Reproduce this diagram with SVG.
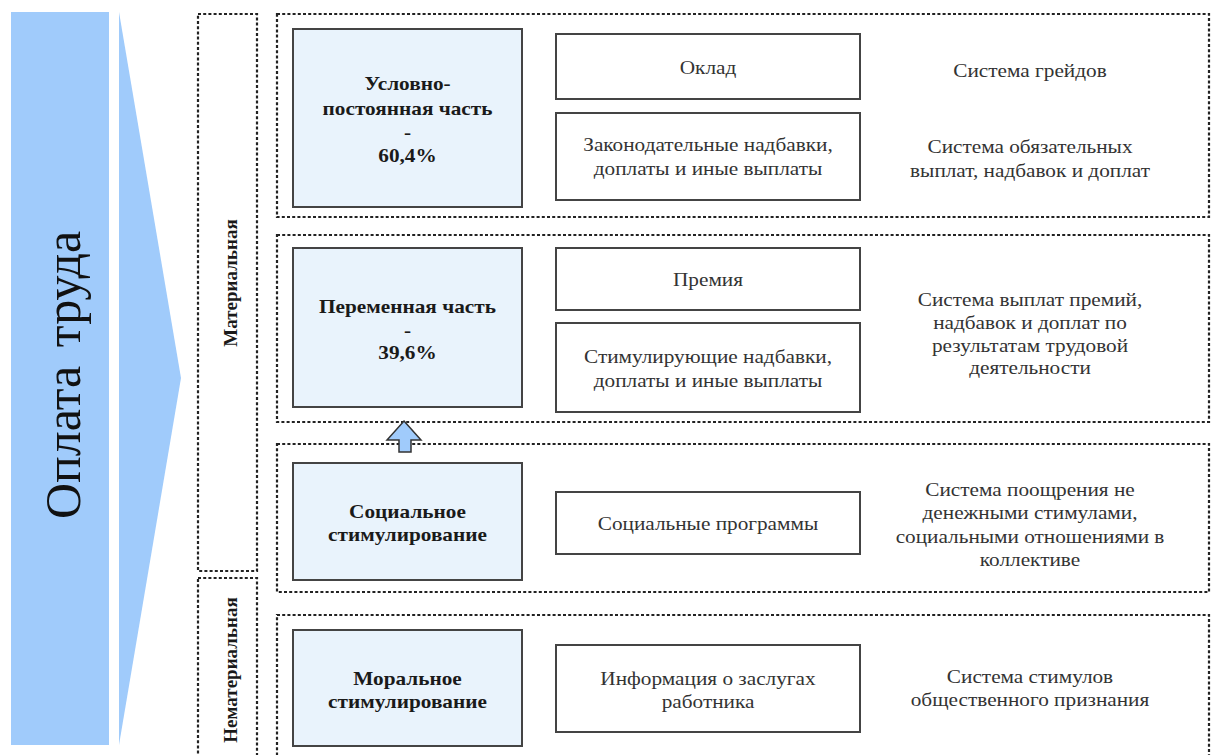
<svg xmlns="http://www.w3.org/2000/svg" width="1211" height="755" viewBox="0 0 1211 755">
<style>
.dash{fill:none;stroke:#222;stroke-width:2.2;stroke-dasharray:3 2.2}
.main{fill:#e9f3fc;stroke:#444;stroke-width:2}
.sub{fill:#fff;stroke:#444;stroke-width:2}
.b{font-family:"Liberation Serif",serif;font-weight:bold;font-size:18.5px;fill:#1a1a1a;text-anchor:middle}
.r{font-family:"Liberation Serif",serif;font-size:18.5px;fill:#333;text-anchor:middle}
.v{font-family:"Liberation Serif",serif;font-weight:bold;font-size:19px;fill:#1a1a1a;text-anchor:middle}
</style>
<rect width="1211" height="755" fill="#fff"/>
<g id="title">
<rect x="11" y="12" width="98" height="733" fill="#a0cbfb"/>
<polygon points="119,12 181,378 119,745" fill="#a0cbfb"/>
<text transform="translate(80,375) rotate(-90)" x="0" y="0" font-family="Liberation Serif, serif" font-size="50" word-spacing="6" fill="#111" text-anchor="middle">Оплата труда</text>
</g>
<g id="group-material">
<rect class="dash" x="198" y="14" width="59" height="557"/>
<text class="v" transform="translate(237,283) rotate(-90)">Материальная</text>
</g>
<g id="group-nonmaterial">
<rect class="dash" x="198" y="578" width="59" height="190"/>
<text class="v" transform="translate(237,670) rotate(-90)">Нематериальная</text>
</g>
<g id="row1">
<rect class="dash" x="277" y="14" width="932" height="203"/>
<rect class="main" x="293" y="29" width="229" height="178"/>
<g transform="matrix(1.15 0 0 1 407.5 0)">
<text class="b" x="0" y="90">Условно-</text>
<text class="b" x="0" y="115">постоянная часть</text>
<text class="b" x="0" y="139">-</text>
<text class="b" x="0" y="162">60,4%</text>
</g>
<rect class="sub" x="556" y="34" width="304" height="65"/>
<text class="r" transform="matrix(1.15 0 0 1 708 0)" x="0" y="74">Оклад</text>
<rect class="sub" x="556" y="113" width="304" height="87"/>
<g transform="matrix(1.15 0 0 1 708 0)">
<text class="r" x="0" y="151">Законодательные надбавки,</text>
<text class="r" x="0" y="175">доплаты и иные выплаты</text>
</g>
<g transform="matrix(1.15 0 0 1 1030 0)">
<text class="r" x="0" y="77">Система грейдов</text>
<text class="r" x="0" y="153">Система обязательных</text>
<text class="r" x="0" y="177">выплат, надбавок и доплат</text>
</g>
</g>
<g id="row2">
<rect class="dash" x="277" y="235" width="932" height="187"/>
<rect class="main" x="293" y="248" width="229" height="159"/>
<g transform="matrix(1.15 0 0 1 407.5 0)">
<text class="b" x="0" y="313">Переменная часть</text>
<text class="b" x="0" y="337">-</text>
<text class="b" x="0" y="359">39,6%</text>
</g>
<rect class="sub" x="556" y="248" width="304" height="62"/>
<text class="r" transform="matrix(1.15 0 0 1 708 0)" x="0" y="286">Премия</text>
<rect class="sub" x="556" y="323" width="304" height="89"/>
<g transform="matrix(1.15 0 0 1 708 0)">
<text class="r" x="0" y="363">Стимулирующие надбавки,</text>
<text class="r" x="0" y="387">доплаты и иные выплаты</text>
</g>
<g transform="matrix(1.15 0 0 1 1030 0)">
<text class="r" x="0" y="306">Система выплат премий,</text>
<text class="r" x="0" y="329">надбавок и доплат по</text>
<text class="r" x="0" y="352">результатам трудовой</text>
<text class="r" x="0" y="374">деятельности</text>
</g>
</g>
<g id="row3">
<rect class="dash" x="277" y="444" width="932" height="148"/>
<rect class="main" x="293" y="463" width="229" height="117"/>
<g transform="matrix(1.15 0 0 1 407.5 0)">
<text class="b" x="0" y="518">Социальное</text>
<text class="b" x="0" y="541">стимулирование</text>
</g>
<rect class="sub" x="556" y="492" width="304" height="62"/>
<text class="r" transform="matrix(1.15 0 0 1 708 0)" x="0" y="530">Социальные программы</text>
<g transform="matrix(1.15 0 0 1 1030 0)">
<text class="r" x="0" y="496">Система поощрения не</text>
<text class="r" x="0" y="519">денежными стимулами,</text>
<text class="r" x="0" y="543">социальными отношениями в</text>
<text class="r" x="0" y="566">коллективе</text>
</g>
</g>
<g id="row4">
<rect class="dash" x="277" y="615" width="932" height="160"/>
<rect class="main" x="293" y="630" width="229" height="116"/>
<g transform="matrix(1.15 0 0 1 407.5 0)">
<text class="b" x="0" y="685">Моральное</text>
<text class="b" x="0" y="708">стимулирование</text>
</g>
<rect class="sub" x="556" y="645" width="304" height="87"/>
<g transform="matrix(1.15 0 0 1 708 0)">
<text class="r" x="0" y="685">Информация о заслугах</text>
<text class="r" x="0" y="708">работника</text>
</g>
<g transform="matrix(1.15 0 0 1 1030 0)">
<text class="r" x="0" y="683">Система стимулов</text>
<text class="r" x="0" y="706">общественного признания</text>
</g>
</g>
<g id="connectors">
<polygon points="404,421 421,440 411,440 411,452 399,452 399,440 387,440" fill="#a0cbfb" stroke="#333" stroke-width="1.5" stroke-linejoin="miter"/>
</g>
</svg>
